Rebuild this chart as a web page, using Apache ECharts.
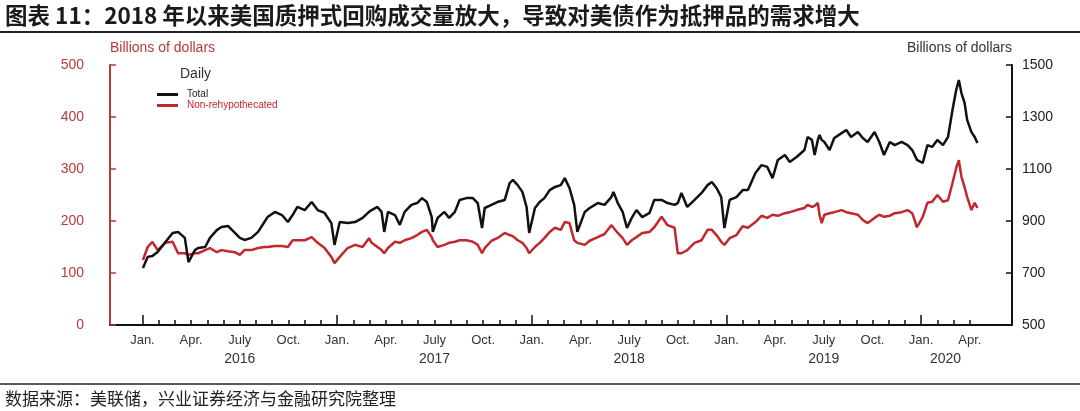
<!DOCTYPE html>
<html>
<head>
<meta charset="utf-8">
<script src="https://cdn.jsdelivr.net/npm/echarts@6/dist/echarts.min.js"></script>
<style>
html,body{margin:0;padding:0;background:#fff;}
#chart{width:1080px;height:411px;}
</style>
</head>
<body>
<div id="chart"></div>
<script>
// ---------------- DATA ----------------
const dates = [
 '2016-01-02','2016-01-11','2016-01-20','2016-01-30','2016-02-13','2016-02-26','2016-03-07','2016-03-20','2016-03-27','2016-04-08','2016-04-14','2016-04-27','2016-05-06','2016-05-19','2016-05-28','2016-06-09','2016-06-22','2016-07-01','2016-07-10','2016-07-23','2016-08-05','2016-08-17','2016-08-23','2016-09-06','2016-09-19','2016-09-30','2016-10-09','2016-10-18','2016-11-01','2016-11-14','2016-11-25','2016-12-08','2016-12-21','2016-12-27','2017-01-06','2017-01-21','2017-02-04','2017-02-17',
 '2017-02-28','2017-03-05','2017-03-16','2017-03-24','2017-03-29','2017-04-05','2017-04-18','2017-04-27','2017-05-06','2017-05-19','2017-05-30','2017-06-08','2017-06-17','2017-06-26','2017-06-28','2017-07-07','2017-07-20','2017-07-29','2017-08-09','2017-08-18','2017-08-31','2017-09-12','2017-09-21','2017-09-29','2017-10-04','2017-10-17','2017-10-28','2017-11-11','2017-11-20','2017-11-26','2017-12-05','2017-12-14','2017-12-22','2017-12-27','2018-01-07','2018-01-16','2018-01-25','2018-02-04','2018-02-13','2018-02-23','2018-03-02','2018-03-11','2018-03-20','2018-03-26','2018-04-09',
 '2018-04-18','2018-05-03','2018-05-16','2018-05-29','2018-06-02','2018-06-10','2018-06-19','2018-06-27','2018-07-06','2018-07-15','2018-07-26','2018-08-09','2018-08-18','2018-09-01','2018-09-12','2018-09-25','2018-09-27','2018-10-01','2018-10-08','2018-10-19','2018-11-02','2018-11-15','2018-11-26','2018-12-04','2018-12-13','2018-12-22','2018-12-28','2019-01-07','2019-01-20','2019-02-01','2019-02-10','2019-02-23','2019-03-06','2019-03-17','2019-03-27','2019-04-06','2019-04-19','2019-04-28','2019-05-11','2019-05-26',
 '2019-06-01','2019-06-09','2019-06-14','2019-06-20','2019-06-23','2019-06-27','2019-07-02','2019-07-12','2019-07-21','2019-08-04','2019-08-13','2019-08-22','2019-09-04','2019-09-13','2019-09-22','2019-10-05','2019-10-14','2019-10-23','2019-11-03','2019-11-12','2019-11-25','2019-12-06','2019-12-15','2019-12-24','2020-01-04','2020-01-13','2020-01-22','2020-02-01','2020-02-11','2020-02-20','2020-02-28','2020-03-06','2020-03-11','2020-03-16','2020-03-22','2020-03-27','2020-04-04','2020-04-10','2020-04-15'
];
// Total (right axis, billions of dollars)
const totalRepo = [
 719,762,765,781,819,854,858,835,742,788,796,800,835,865,877,881,854,835,827,835,858,896,915,935,923,896,923,954,942,973,942,931,892,808,896,892,896,912,
 935,942,954,935,858,935,923,885,935,962,969,988,973,915,858,912,935,912,935,981,988,988,969,873,950,962,973,981,1046,1058,1038,1012,954,854,950,973,988,1019,1031,1038,1065,1027,962,858,935,
 950,969,962,992,1012,969,935,873,912,942,915,931,981,981,969,962,969,969,1008,954,981,1008,1038,1050,1027,992,873,981,992,1019,1019,1085,1115,1108,1065,1135,1154,1127,1146,1173,
 1223,1212,1154,1212,1231,1212,1204,1173,1219,1238,1250,1223,1242,1219,1204,1242,1204,1154,1204,1192,1204,1192,1173,1135,1123,1192,1185,1212,1192,1223,1327,1404,1442,1392,1354,1288,1242,1223,1200
];
// Non-rehypothecated (left axis, billions of dollars)
const nonRehyp = [
 125,150,160,144,158,160,138,138,135,138,138,144,148,140,144,142,140,135,144,144,148,150,150,152,152,150,163,163,163,169,158,148,131,119,131,148,154,150,
 167,158,150,144,138,148,160,158,163,167,173,179,183,169,163,150,154,158,160,163,163,160,154,138,148,162,167,177,173,171,163,158,148,138,150,158,167,179,187,183,198,196,163,158,154,
 162,169,175,192,187,177,167,154,163,169,177,179,188,208,192,187,187,138,138,144,158,163,183,183,173,160,154,167,173,190,187,198,210,206,212,210,215,217,221,225,
 231,227,229,235,212,196,212,215,217,221,217,215,212,202,196,206,212,208,210,215,217,221,215,188,208,235,237,250,237,240,273,302,317,285,265,246,221,235,225
];
const seriesNames = ['Total', 'Non-rehypothecated'];
const legendTitle = 'Daily';
const axisName = 'Billions of dollars';
const monthNames = ['Jan.', 'Apr.', 'July', 'Oct.'];
const yearLabels = ['2016', '2017', '2018', '2019', '2020'];
const leftTicks = [0, 100, 200, 300, 400, 500];
const rightTicks = [500, 700, 900, 1100, 1300, 1500];
const firstTickDate = '2016-01-01';
const lastTickDate = '2020-04-01';
const titleText = '图表 11：2018 年以来美国质押式回购成交量放大，导致对美债作为抵押品的需求增大';
const sourceText = '数据来源：美联储，兴业证券经济与金融研究院整理';

// ---------------- HELPERS ----------------
function toMonth(s) {
  const [y, m, d] = s.split('-').map(Number);
  const dim = new Date(y, m, 0).getDate();
  return (y - 2016) * 12 + (m - 1) + (d - 1) / dim;
}
const t0 = toMonth(firstTickDate), t1 = toMonth(lastTickDate);
const monthTicks = []; for (let k = t0; k <= t1; k++) monthTicks.push(k);
const quarterTicks = monthTicks.filter(k => k % 3 === 0);
const yearTicks = monthTicks.filter(k => k % 12 === 0);
const yearLabelPos = yearLabels.map((y, i) => (i * 12 + Math.min((i + 1) * 12, t1)) / 2);

const RED = '#c1272d';
const AXRED = '#b73a3a';
const FONT = '"Liberation Sans", Arial, sans-serif';
const CJK = '"Noto Sans CJK SC", sans-serif';

const gridBox = { left: 110, right: 68, top: 65, bottom: 86 };
const xMin = -2, xMax = 53.6;

const chart = echarts.init(document.getElementById('chart'), null, { renderer: 'canvas' });
chart.setOption({
  animation: false,
  backgroundColor: '#fff',
  textStyle: { fontFamily: FONT },
  grid: [Object.assign({}, gridBox), Object.assign({}, gridBox)],
  legend: {
    orient: 'vertical', left: 152, top: 84, itemWidth: 21, itemHeight: 3, itemGap: 0,
    icon: 'rect',
    textStyle: { fontSize: 10, fontFamily: FONT, lineHeight: 11, padding: [0, 0, 0, 4] },
    data: [
      { name: seriesNames[0], textStyle: { color: '#222' } },
      { name: seriesNames[1], textStyle: { color: RED } }
    ]
  },
  xAxis: [
    {
      gridIndex: 0, type: 'value', min: xMin, max: xMax, position: 'bottom',
      axisLine: { show: true, onZero: false, lineStyle: { color: '#111', width: 2 } },
      axisTick: { show: true, inside: true, length: 5, customValues: monthTicks, lineStyle: { color: '#111', width: 1.5 } },
      axisLabel: { customValues: quarterTicks, color: '#333', fontSize: 13, margin: 9,
        formatter: v => monthNames[Math.round(((v % 12) + 12) % 12) / 3] },
      splitLine: { show: false }
    },
    {
      gridIndex: 1, type: 'value', min: xMin, max: xMax, position: 'bottom',
      axisLine: { show: false, onZero: false },
      axisTick: { show: true, inside: true, length: 10, customValues: yearTicks, lineStyle: { color: '#111', width: 1.5 } },
      axisLabel: { customValues: yearLabelPos, color: '#333', fontSize: 14, margin: 27,
        formatter: v => yearLabels[Math.floor(v / 12)] },
      splitLine: { show: false }
    }
  ],
  yAxis: [
    {
      gridIndex: 0, type: 'value', position: 'left', min: 0, max: 500,
      name: axisName, nameLocation: 'end', nameGap: 10,
      nameTextStyle: { color: AXRED, fontSize: 14, align: 'left', fontFamily: FONT },
      axisLine: { show: true, onZero: false, lineStyle: { color: AXRED, width: 2 } },
      axisTick: { show: true, inside: true, length: 6, customValues: leftTicks, lineStyle: { color: AXRED, width: 1.5 } },
      axisLabel: { customValues: leftTicks, color: AXRED, fontSize: 14, margin: 26, formatter: v => String(v) },
      splitLine: { show: false }
    },
    {
      gridIndex: 0, type: 'value', position: 'right', min: 500, max: 1500,
      name: axisName, nameLocation: 'end', nameGap: 10,
      nameTextStyle: { color: '#333', fontSize: 14, align: 'right', fontFamily: FONT },
      axisLine: { show: true, onZero: false, lineStyle: { color: '#111', width: 2 } },
      axisTick: { show: true, inside: true, length: 6, customValues: rightTicks, lineStyle: { color: '#111', width: 1.5 } },
      axisLabel: { customValues: rightTicks, color: '#222', fontSize: 14, margin: 10, formatter: v => String(v) },
      splitLine: { show: false }
    },
    { gridIndex: 1, type: 'value', show: false, min: 0, max: 1 }
  ],
  graphic: [
    { type: 'text', left: 5, top: 4, style: { text: titleText, font: 'bold 22.5px ' + CJK, fill: '#1a1a1a' } },
    { type: 'line', shape: { x1: 0, y1: 32, x2: 1080, y2: 32 }, style: { stroke: '#222', lineWidth: 2 } },
    { type: 'line', shape: { x1: 0, y1: 384, x2: 1080, y2: 384 }, style: { stroke: '#222', lineWidth: 1.5 } },
    { type: 'text', left: 5, top: 390, style: { text: sourceText, font: '17px ' + CJK, fill: '#222' } },
    { type: 'text', left: 180, top: 67, style: { text: legendTitle, font: '14px ' + FONT, fill: '#333' } }
  ],
  series: [
    {
      name: seriesNames[1], type: 'line', xAxisIndex: 0, yAxisIndex: 0,
      showSymbol: false, symbol: 'none', color: RED,
      lineStyle: { color: RED, width: 2.5 },
      data: dates.map((d, i) => [toMonth(d), nonRehyp[i]])
    },
    {
      name: seriesNames[0], type: 'line', xAxisIndex: 0, yAxisIndex: 1,
      showSymbol: false, symbol: 'none', color: '#111',
      lineStyle: { color: '#111', width: 2.5 },
      data: dates.map((d, i) => [toMonth(d), totalRepo[i]])
    }
  ]
});
</script>
</body>
</html>
